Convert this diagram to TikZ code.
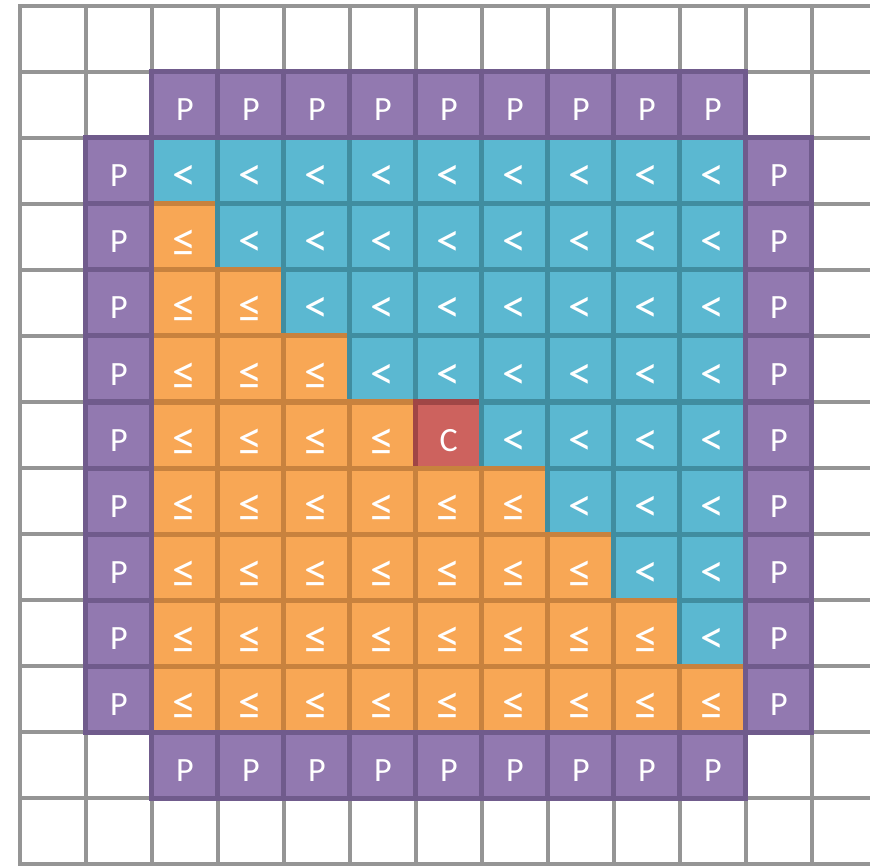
\documentclass[tikz,border=0pt]{standalone}
\usepackage{fontspec}
\newfontfamily\cellfont{Carlito}
\definecolor{gridgray}{HTML}{959595}
\definecolor{pfill}{HTML}{9279B0}
\definecolor{pdraw}{HTML}{705B8C}
\definecolor{bfill}{HTML}{5BB8D1}
\definecolor{bdraw}{HTML}{408DA0}
\definecolor{ofill}{HTML}{F8A755}
\definecolor{odraw}{HTML}{C8823E}
\definecolor{rfill}{HTML}{CD625E}
\definecolor{rdraw}{HTML}{A04646}
\begin{document}
\begin{tikzpicture}[x=1pt,y=-1pt,
  gridline/.style={draw=gridgray,line width=4.5pt,line cap=rect},
  cell/.style={minimum width=66pt,minimum height=66pt,inner sep=0pt,line width=5pt,
    text=white,font=\cellfont\fontsize{34}{34}\selectfont,text height=32pt,text depth=0pt},
  symtext/.style={font=\cellfont\fontsize{48}{48}\selectfont,text height=40pt,text depth=0pt},
  pcell/.style={cell,fill=pfill,draw=pdraw},
  bcell/.style={cell,symtext,fill=bfill,draw=bdraw},
  ocell/.style={cell,symtext,fill=ofill,draw=odraw},
  rcell/.style={cell,fill=rfill,draw=rdraw}]
\clip (0,0) rectangle (870,866);
\fill[white] (0,0) rectangle (870,866);
% background grid
\foreach \k in {0,...,13}{
  \draw[gridline] (19.8,6+66*\k) -- (880,6+66*\k);
}
\foreach \k in {0,...,12}{
  \draw[gridline] (19.8+66*\k,6) -- (19.8+66*\k,864);
}
% interior cells
\foreach \r in {2,...,10}{
  \foreach \c in {2,...,10}{
    \pgfmathtruncatemacro\t{((\c<\r) || ((\c==\r) && (\r>6))) ? 1 : (((\c==\r) && (\r==6)) ? 2 : 0)}
    \ifcase\t
      \node[bcell] (c-\r-\c) at (52.8+66*\c,39+66*\r) {<};
    \or
      \node[ocell] (c-\r-\c) at (52.8+66*\c,39+66*\r) {≤};
    \or
      \node[rcell] (c-\r-\c) at (52.8+66*\c,39+66*\r) {C};
    \fi
  }
}
% padding ring
\foreach \c in {2,...,10}{
  \node[pcell] (c-1-\c) at (52.8+66*\c,105) {P};
  \node[pcell] (c-11-\c) at (52.8+66*\c,765) {P};
}
\foreach \r in {2,...,10}{
  \node[pcell] (c-\r-1) at (118.8,39+66*\r) {P};
  \node[pcell] (c-\r-11) at (778.8,39+66*\r) {P};
}
\end{tikzpicture}
\end{document}
